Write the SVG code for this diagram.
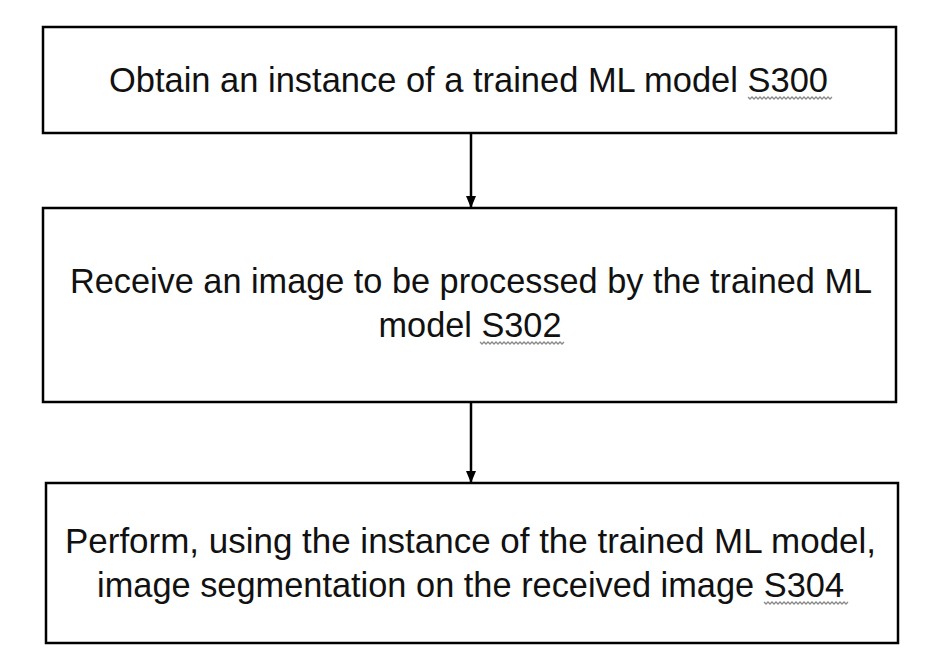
<svg xmlns="http://www.w3.org/2000/svg" width="931" height="670" viewBox="0 0 931 670">
  <defs>
    <style>
      .box { fill: #ffffff; stroke: #000000; stroke-width: 2.5; }
      .lbl { font-family: "Liberation Sans", Arial, sans-serif; font-size: 35px; fill: #111111; text-anchor: middle; }
      .conn { stroke: #000000; stroke-width: 2.5; fill: none; }
      .squig { stroke: #8a8a8a; stroke-width: 1.3; fill: none; }
    </style>
    <marker id="arrow" viewBox="0 0 12 10" refX="11" refY="5" markerWidth="12" markerHeight="10" markerUnits="userSpaceOnUse" orient="auto">
      <path d="M0,0 L12,5 L0,10 Z" fill="#000000"/>
    </marker>
  </defs>
  <rect width="931" height="670" fill="#ffffff"/>

  <g id="connectors">
    <line class="conn" x1="471" y1="133" x2="471" y2="207" marker-end="url(#arrow)"/>
    <line class="conn" x1="471" y1="402" x2="471" y2="482" marker-end="url(#arrow)"/>
  </g>

  <g id="node-s300">
    <rect class="box" x="43" y="27" width="853" height="106"/>
    <text class="lbl" x="468.5" y="92" textLength="719" lengthAdjust="spacingAndGlyphs">Obtain an instance of a trained ML model S300</text>
    <path class="squig" d="M748,97 l2,2 l2,-2 l2,2 l2,-2 l2,2 l2,-2 l2,2 l2,-2 l2,2 l2,-2 l2,2 l2,-2 l2,2 l2,-2 l2,2 l2,-2 l2,2 l2,-2 l2,2 l2,-2 l2,2 l2,-2 l2,2 l2,-2 l2,2 l2,-2 l2,2 l2,-2 l2,2 l2,-2 l2,2 l2,-2 l2,2 l2,-2 l2,2 l2,-2 l2,2 l2,-2 l2,2 l2,-2 l2,2 l2,-2"/>
  </g>

  <g id="node-s302">
    <rect class="box" x="43" y="208" width="853" height="194"/>
    <text class="lbl" x="471" y="293" textLength="802" lengthAdjust="spacingAndGlyphs">Receive an image to be processed by the trained ML</text>
    <text class="lbl" x="470" y="337" textLength="183" lengthAdjust="spacingAndGlyphs">model S302</text>
    <path class="squig" d="M480,342 l2,2 l2,-2 l2,2 l2,-2 l2,2 l2,-2 l2,2 l2,-2 l2,2 l2,-2 l2,2 l2,-2 l2,2 l2,-2 l2,2 l2,-2 l2,2 l2,-2 l2,2 l2,-2 l2,2 l2,-2 l2,2 l2,-2 l2,2 l2,-2 l2,2 l2,-2 l2,2 l2,-2 l2,2 l2,-2 l2,2 l2,-2 l2,2 l2,-2 l2,2 l2,-2 l2,2 l2,-2 l2,2 l2,-2"/>
  </g>

  <g id="node-s304">
    <rect class="box" x="46" y="483" width="852" height="160"/>
    <text class="lbl" x="470.5" y="553" textLength="811" lengthAdjust="spacingAndGlyphs">Perform, using the instance of the trained ML model,</text>
    <text class="lbl" x="470.5" y="597" textLength="747" lengthAdjust="spacingAndGlyphs">image segmentation on the received image S304</text>
    <path class="squig" d="M764,602 l2,2 l2,-2 l2,2 l2,-2 l2,2 l2,-2 l2,2 l2,-2 l2,2 l2,-2 l2,2 l2,-2 l2,2 l2,-2 l2,2 l2,-2 l2,2 l2,-2 l2,2 l2,-2 l2,2 l2,-2 l2,2 l2,-2 l2,2 l2,-2 l2,2 l2,-2 l2,2 l2,-2 l2,2 l2,-2 l2,2 l2,-2 l2,2 l2,-2 l2,2 l2,-2 l2,2 l2,-2 l2,2 l2,-2"/>
  </g>
</svg>
